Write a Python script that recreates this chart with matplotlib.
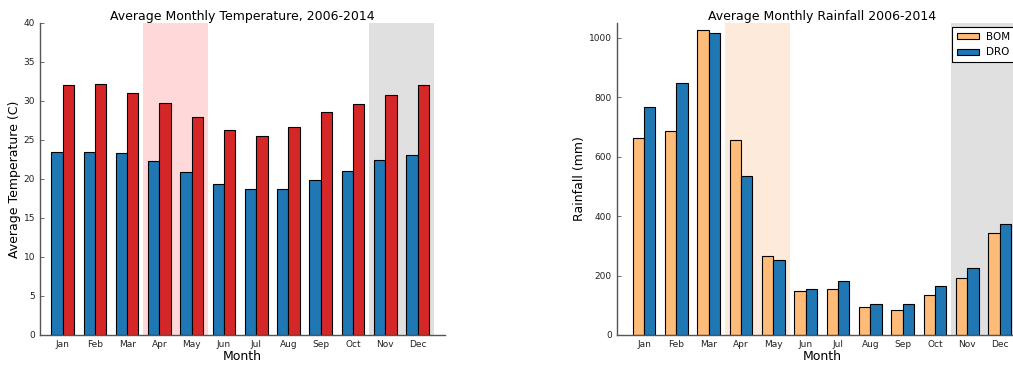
import matplotlib
matplotlib.use("Agg")
import matplotlib.pyplot as plt
import numpy as np

months = ["Jan", "Feb", "Mar", "Apr", "May", "Jun",
          "Jul", "Aug", "Sep", "Oct", "Nov", "Dec"]

# Average monthly temperature (C)
temp_min = [23.4, 23.5, 23.3, 22.3, 20.9, 19.4, 18.7, 18.7, 19.8, 21.0, 22.4, 23.1]
temp_max = [32.0, 32.2, 31.0, 29.7, 27.9, 26.2, 25.5, 26.7, 28.5, 29.6, 30.8, 32.0]

# Average monthly rainfall (mm)
rain_bom = [662, 685, 1026, 655, 264, 149, 155, 93, 83, 136, 192, 342]
rain_dro = [768, 847, 1015, 535, 252, 153, 180, 105, 105, 166, 224, 372]

width = 0.35
x = np.arange(len(months))

fig = plt.figure(figsize=(10.13, 3.67), dpi=100)
ax1 = fig.add_axes([0.0395, 0.0872, 0.3998, 0.851])
ax2 = fig.add_axes([0.6088, 0.0872, 0.405, 0.851])

def style(ax):
    for side in ("top", "right"):
        ax.spines[side].set_visible(False)
    for side in ("left", "bottom"):
        ax.spines[side].set_color("#555555")
        ax.spines[side].set_linewidth(1.0)
    ax.tick_params(axis="both", direction="in", length=3, width=0.6,
                   color="#555555", labelsize=6.5, labelcolor="#222222")
    ax.tick_params(axis="x", length=0)

# Temperature panel
ax1.axvspan(2.85, 4.85, color="#ffd9d9", zorder=0, lw=0)
ax1.axvspan(9.85, 11.85, color="#e0e0e0", zorder=0, lw=0)
ax1.bar(x, temp_min, width, align="edge", color="#1f77b4",
        edgecolor="black", linewidth=0.8, zorder=2)
ax1.bar(x + width, temp_max, width, align="edge", color="#d62728",
        edgecolor="black", linewidth=0.8, zorder=2)
ax1.set_xlim(-0.35, 12.2)
ax1.set_ylim(0, 40)
ax1.set_xticks(x + width)
ax1.set_xticklabels(months)
ax1.set_title("Average Monthly Temperature, 2006-2014", fontsize=9, pad=2)
ax1.set_xlabel("Month", fontsize=9, labelpad=1)
ax1.set_ylabel("Average Temperature (C)", fontsize=9, labelpad=2)
style(ax1)

# Rainfall panel
ax2.axvspan(2.85, 4.85, color="#fdeadb", zorder=0, lw=0)
ax2.axvspan(9.85, 11.85, color="#e0e0e0", zorder=0, lw=0)
ax2.bar(x, rain_bom, width, align="edge", color="#ffbb78",
        edgecolor="black", linewidth=0.8, zorder=2, label="BOM")
ax2.bar(x + width, rain_dro, width, align="edge", color="#1f77b4",
        edgecolor="black", linewidth=0.8, zorder=2, label="DRO")
ax2.set_xlim(-0.5, 12.2)
ax2.set_ylim(0, 1050)
ax2.set_yticks([0, 200, 400, 600, 800, 1000])
ax2.set_xticks(x + width)
ax2.set_xticklabels(months)
ax2.set_title("Average Monthly Rainfall 2006-2014", fontsize=9, pad=2)
ax2.set_xlabel("Month", fontsize=9, labelpad=1)
ax2.set_ylabel("Rainfall (mm)", fontsize=9, labelpad=2)
leg = ax2.legend(loc="upper left", fontsize=7.5, fancybox=False,
                 framealpha=1, edgecolor="black", handlelength=2.15,
                 handleheight=0.5, handletextpad=0.7, labelspacing=0.55,
                 borderpad=0.45,
                 bbox_to_anchor=(952 / 1013, 1 - 27 / 367),
                 bbox_transform=fig.transFigure, borderaxespad=0)
leg.get_frame().set_linewidth(0.8)
style(ax2)

fig.savefig("out.png", dpi=100)
